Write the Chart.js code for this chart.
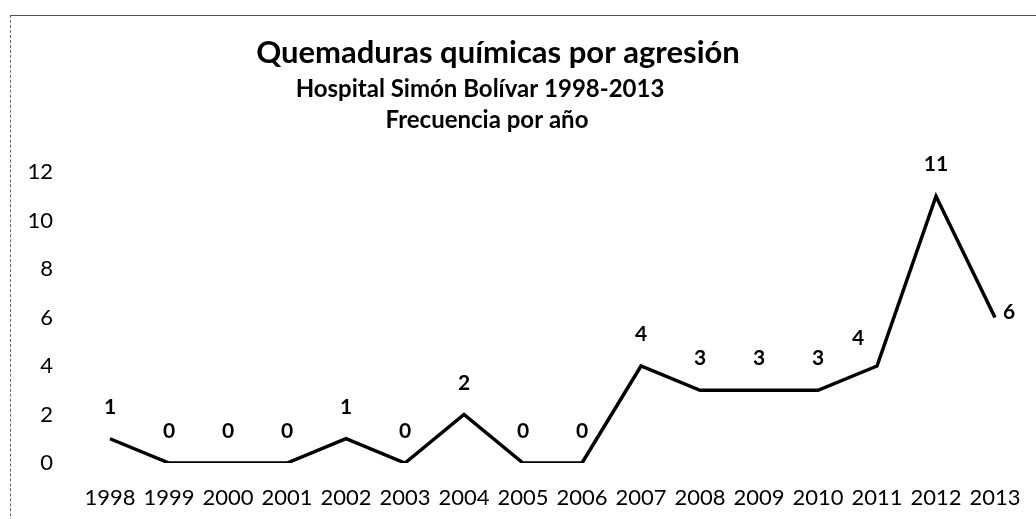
<!DOCTYPE html>
<html>
<head>
<meta charset="utf-8">
<title>Quemaduras químicas por agresión</title>
<script src="https://cdn.jsdelivr.net/npm/chart.js@4.4.1/dist/chart.umd.min.js"></script>
<style>
  body { margin: 0; background: #fff; }
  #wrap { position: relative; width: 1036px; height: 519px; overflow: hidden; }
  #frame {
    position: absolute; left: 10px; top: 15px; width: 1100px; height: 600px;
    border-top: 1px solid #555; border-left: 1px dashed #666;
  }
  canvas { position: absolute; left: 0; top: 0; }
</style>
</head>
<body>
<div id="wrap">
  <div id="frame"></div>
  <canvas id="chart" width="1036" height="519"></canvas>
</div>
<script>
'use strict';

var years = ['1998', '1999', '2000', '2001', '2002', '2003', '2004', '2005',
  '2006', '2007', '2008', '2009', '2010', '2011', '2012', '2013'];
var casos = [1, 0, 0, 0, 1, 0, 2, 0, 0, 4, 3, 3, 3, 4, 11, 6];
// where Excel put each data label
var labelPos = ['top', 'top', 'top', 'top', 'top', 'top', 'top', 'top',
  'top', 'top', 'top', 'top', 'top', 'left', 'top', 'right'];
var titleLines = [
  'Quemaduras químicas por agresión',
  'Hospital Simón Bolívar 1998-2013',
  'Frecuencia por año'
];

var FONT = 'Lato, "Open Sans", sans-serif';

// titles drawn by hand, the block sits left of the plot centre
var titlePlugin = {
  id: 'titleBlock',
  afterDraw: function(chart) {
    var c = chart.ctx;
    c.save();
    c.fillStyle = '#000';
    c.textAlign = 'center';
    c.textBaseline = 'alphabetic';
    c.font = 'bold 31px ' + FONT;
    c.fillText(titleLines[0], 498, 63);
    c.font = 'bold 24px ' + FONT;
    c.fillText(titleLines[1], 480, 97);
    c.fillText(titleLines[2], 487, 128);
    c.restore();
  }
};

var labelPlugin = {
  id: 'pointLabels',
  afterDatasetsDraw: function(chart) {
    var c = chart.ctx;
    var meta = chart.getDatasetMeta(0);
    c.save();
    c.fillStyle = '#000';
    c.font = 'bold 21px ' + FONT;
    meta.data.forEach(function(pt, i) {
      var txt = String(casos[i]);
      if (labelPos[i] === 'left') {
        c.textAlign = 'center';
        c.textBaseline = 'alphabetic';
        c.fillText(txt, pt.x - 19, pt.y - 21);
      } else if (labelPos[i] === 'right') {
        c.textAlign = 'left';
        c.textBaseline = 'middle';
        c.fillText(txt, pt.x + 8, pt.y - 5);
      } else {
        c.textAlign = 'center';
        c.textBaseline = 'alphabetic';
        c.fillText(txt, pt.x, pt.y - 25);
      }
    });
    c.restore();
  }
};

var ctx = document.getElementById('chart');

var lineChart = new Chart(ctx, {
  type: 'line',
  data: {
    labels: years,
    datasets: [{
      label: 'Frecuencia',
      data: casos,
      borderColor: '#000',
      backgroundColor: '#000',
      borderWidth: 3.5,
      pointRadius: 0,
      tension: 0,
      fill: false
    }]
  },
  options: {
    responsive: false,
    animation: false,
    layout: {
      padding: { top: 172, right: 41, left: 0, bottom: 0 }
    },
    plugins: {
      legend: { display: false },
      title: { display: false },
      tooltip: { enabled: false }
    },
    scales: {
      x: {
        grid: { display: false, drawTicks: false },
        border: { display: false },
        ticks: {
          color: '#000',
          font: { family: FONT, size: 22 },
          padding: 22,
          maxRotation: 0,
          autoSkip: false
        },
        afterFit: function(scale) {
          scale.height = 56;
          scale.paddingLeft = 0;
          scale.paddingRight = 0;
        }
      },
      y: {
        min: 0,
        max: 12,
        grid: { display: false, drawTicks: false },
        border: { display: false },
        ticks: {
          stepSize: 2,
          color: '#000',
          font: { family: FONT, size: 22 },
          padding: 57
        },
        // the big tick padding would otherwise push the plot up
        afterFit: function(scale) {
          scale.width = 110;
          scale.paddingTop = 0;
          scale.paddingBottom = 0;
        }
      }
    }
  },
  plugins: [titlePlugin, labelPlugin]
});
</script>
</body>
</html>
